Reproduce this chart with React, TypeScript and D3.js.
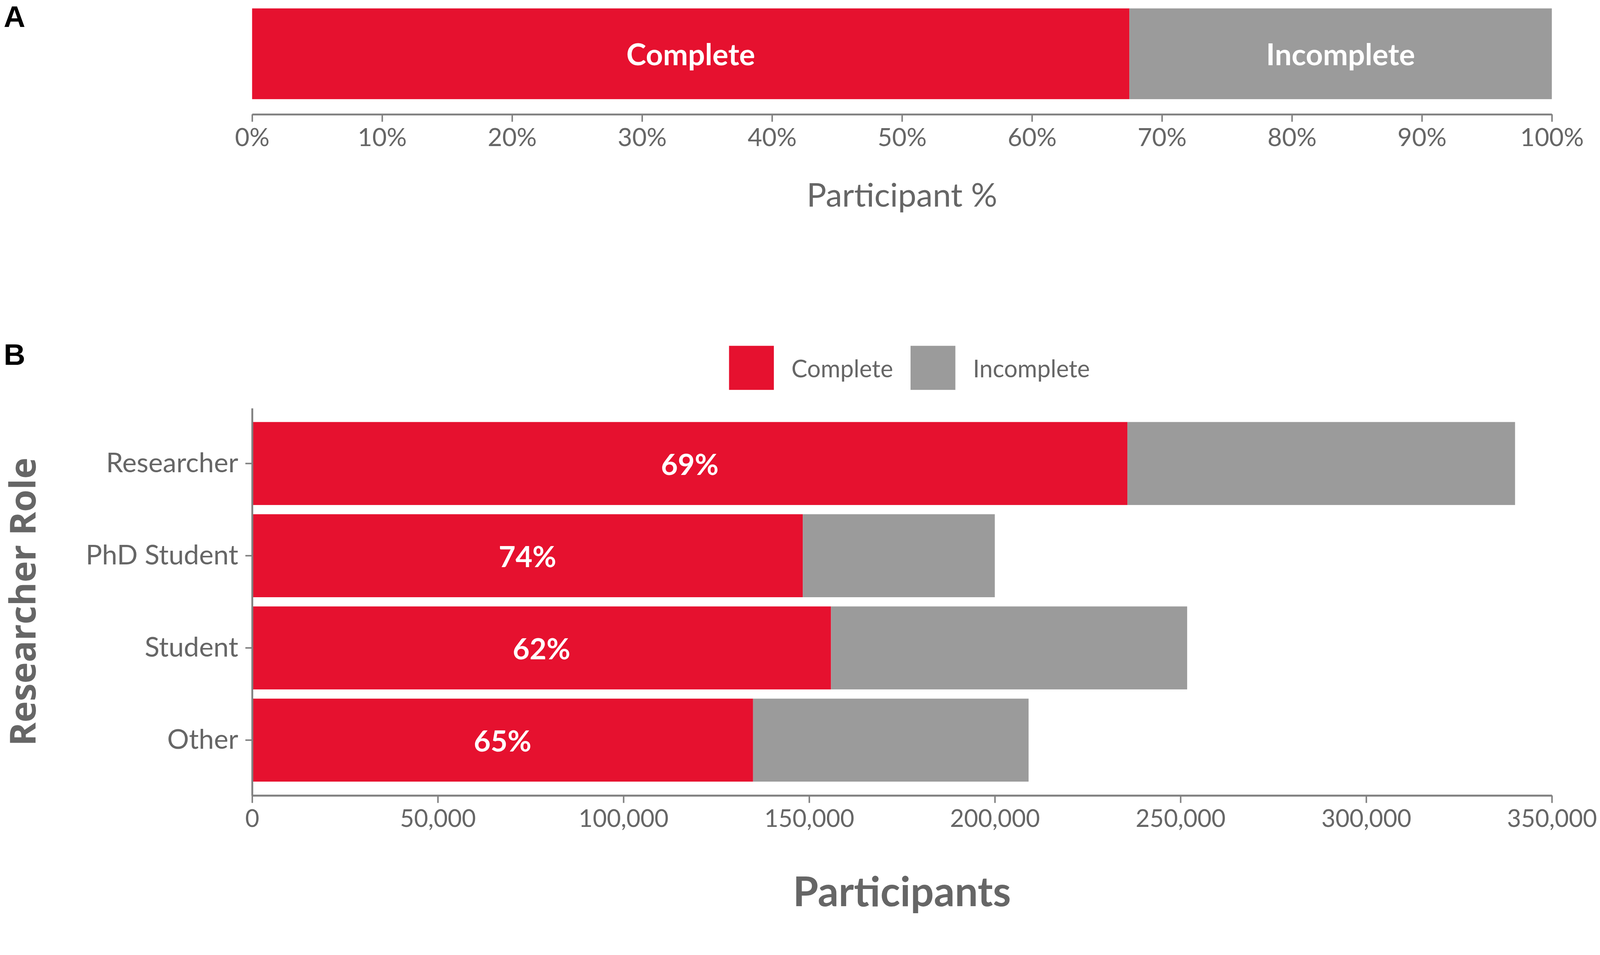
import React from 'react';
import {
  select,
  scaleLinear,
  scaleBand,
  axisBottom,
  axisLeft,
  stack,
  format,
} from 'd3';

// panel A: share of participants
const statusKeys = ['Complete', 'Incomplete'];
const overallShare = [67.5, 32.5];
const shareTicks = [0, 10, 20, 30, 40, 50, 60, 70, 80, 90, 100];

// panel B: participants by researcher role
const roles = ['Researcher', 'PhD Student', 'Student', 'Other'];
const completeCounts = [235700, 148300, 155900, 134900];
const incompleteCounts = [104400, 51700, 95900, 74200];
const countTicks = [0, 50000, 100000, 150000, 200000, 250000, 300000, 350000];

const W = 4284;
const H = 2445;
const RED = '#e6112f';
const GREY = '#9b9b9b';
const TEXT = '#666666';
const AXIS = '#808080';
const FONT = 'Lato, "Open Sans", sans-serif';

const App: React.FC = () => {
  const svgRef = React.useRef<SVGSVGElement>(null);

  React.useEffect(() => {
    document.body.style.margin = '0';
    document.body.style.overflow = 'hidden';
    const svg = select(svgRef.current);
    svg.selectAll('*').remove();

    const left = 675;
    const right = 4155;
    const colour = (k: string) => (k === 'Complete' ? RED : GREY);

    // ---------- panel A ----------
    const xA = scaleLinear().domain([0, 100]).range([left, right]);
    const yA = scaleBand<string>()
      .domain(['all'])
      .range([-18, 306])
      .paddingInner(0.1)
      .paddingOuter(0.15);

    const rowA: any = { key: 'all' };
    statusKeys.forEach((k, i) => (rowA[k] = overallShare[i]));
    const seriesA = stack().keys(statusKeys)([rowA]);

    const gA = svg.append('g');
    seriesA.forEach(s => {
      const d = s[0];
      gA.append('rect')
        .attr('x', xA(d[0]))
        .attr('y', yA('all')!)
        .attr('width', xA(d[1]) - xA(d[0]))
        .attr('height', yA.bandwidth())
        .attr('fill', colour(s.key));
      gA.append('text')
        .attr('x', (xA(d[0]) + xA(d[1])) / 2)
        .attr('y', yA('all')! + yA.bandwidth() / 2)
        .attr('text-anchor', 'middle')
        .attr('dominant-baseline', 'central')
        .attr('fill', 'white')
        .attr('font-weight', 700)
        .attr('font-size', 80)
        .text(s.key);
    });

    const axA = gA
      .append('g')
      .attr('transform', 'translate(0,306)')
      .call(
        axisBottom(xA)
          .tickValues(shareTicks)
          .tickFormat(v => `${v}%`)
          .tickSizeInner(20)
          .tickSizeOuter(0)
          .tickPadding(18) as any,
      );

    gA.append('text')
      .attr('x', (left + right) / 2)
      .attr('y', 519)
      .attr('text-anchor', 'middle')
      .attr('dominant-baseline', 'central')
      .attr('fill', TEXT)
      .attr('font-size', 88)
      .text('Participant %');

    // ---------- panel B ----------
    const xB = scaleLinear().domain([0, 350000]).range([left, right]);
    const yB = scaleBand<string>()
      .domain(roles)
      .range([1093, 2130])
      .paddingInner(0.1)
      .paddingOuter(0.15);

    const rowsB = roles.map((r, i) => ({
      role: r,
      Complete: completeCounts[i],
      Incomplete: incompleteCounts[i],
    }));
    const seriesB = stack<any>().keys(statusKeys)(rowsB);

    const gB = svg.append('g');
    seriesB.forEach(s => {
      gB.selectAll(null)
        .data(s)
        .join('rect')
        .attr('x', d => xB(d[0]))
        .attr('y', d => yB(d.data.role)!)
        .attr('width', d => xB(d[1]) - xB(d[0]))
        .attr('height', yB.bandwidth())
        .attr('fill', colour(s.key));
    });

    gB.selectAll(null)
      .data(rowsB)
      .join('text')
      .attr('x', d => (xB(0) + xB(d.Complete)) / 2)
      .attr('y', d => yB(d.role)! + yB.bandwidth() / 2)
      .attr('text-anchor', 'middle')
      .attr('dominant-baseline', 'central')
      .attr('fill', 'white')
      .attr('font-weight', 700)
      .attr('font-size', 78)
      .text(d => `${Math.round((d.Complete / (d.Complete + d.Incomplete)) * 100)}%`);

    const axBx = gB
      .append('g')
      .attr('transform', 'translate(0,2130)')
      .call(
        axisBottom(xB)
          .tickValues(countTicks)
          .tickFormat(format(',') as any)
          .tickSizeInner(20)
          .tickSizeOuter(0)
          .tickPadding(18) as any,
      );

    const axBy = gB
      .append('g')
      .attr('transform', `translate(${left},0)`)
      .call(axisLeft(yB).tickSizeInner(18).tickSizeOuter(0).tickPadding(19) as any);

    [axA, axBx, axBy].forEach(ax => {
      ax.select('.domain').attr('stroke', AXIS).attr('stroke-width', 5);
      ax.selectAll('.tick line').attr('stroke', AXIS).attr('stroke-width', 4);
      ax.selectAll('.tick text')
        .attr('fill', TEXT)
        .attr('font-size', 67)
        .attr('font-family', FONT);
    });
    axBx.selectAll('.tick text').attr('font-size', 65);
    axBy.selectAll('.tick text').attr('font-size', 73);

    gB.append('text')
      .attr('x', (left + right) / 2)
      .attr('y', 2384)
      .attr('text-anchor', 'middle')
      .attr('dominant-baseline', 'central')
      .attr('fill', TEXT)
      .attr('font-weight', 700)
      .attr('font-size', 110)
      .text('Participants');

    gB.append('text')
      .attr('transform', `translate(58,${(1093 + 2130) / 2}) rotate(-90)`)
      .attr('text-anchor', 'middle')
      .attr('dominant-baseline', 'central')
      .attr('fill', TEXT)
      .attr('font-weight', 700)
      .attr('font-family', '"Open Sans", sans-serif')
      .attr('font-size', 96)
      .text('Researcher Role');

    // legend
    const legendX = [1952, 2438];
    statusKeys.forEach((k, i) => {
      gB.append('rect')
        .attr('x', legendX[i])
        .attr('y', 926)
        .attr('width', 120)
        .attr('height', 118)
        .attr('fill', colour(k));
      gB.append('text')
        .attr('x', legendX[i] + 167)
        .attr('y', 986)
        .attr('dominant-baseline', 'central')
        .attr('fill', TEXT)
        .attr('font-size', 64)
        .text(k);
    });

    // panel tags
    [['A', 72], ['B', 977]].forEach(([t, y]) => {
      svg.append('text')
        .attr('x', 10)
        .attr('y', y as number)
        .attr('font-family', '"Liberation Sans", Arial, sans-serif')
        .attr('font-weight', 700)
        .attr('font-size', 80)
        .attr('fill', 'black')
        .text(t as string);
    });
  }, []);

  return (
    <svg
      ref={svgRef}
      viewBox={`0 0 ${W} ${H}`}
      preserveAspectRatio="xMinYMin meet"
      style={{
        display: 'block',
        width: '100vw',
        height: '100vh',
        background: 'white',
        fontFamily: FONT,
      }}
    />
  );
};

export default App;
